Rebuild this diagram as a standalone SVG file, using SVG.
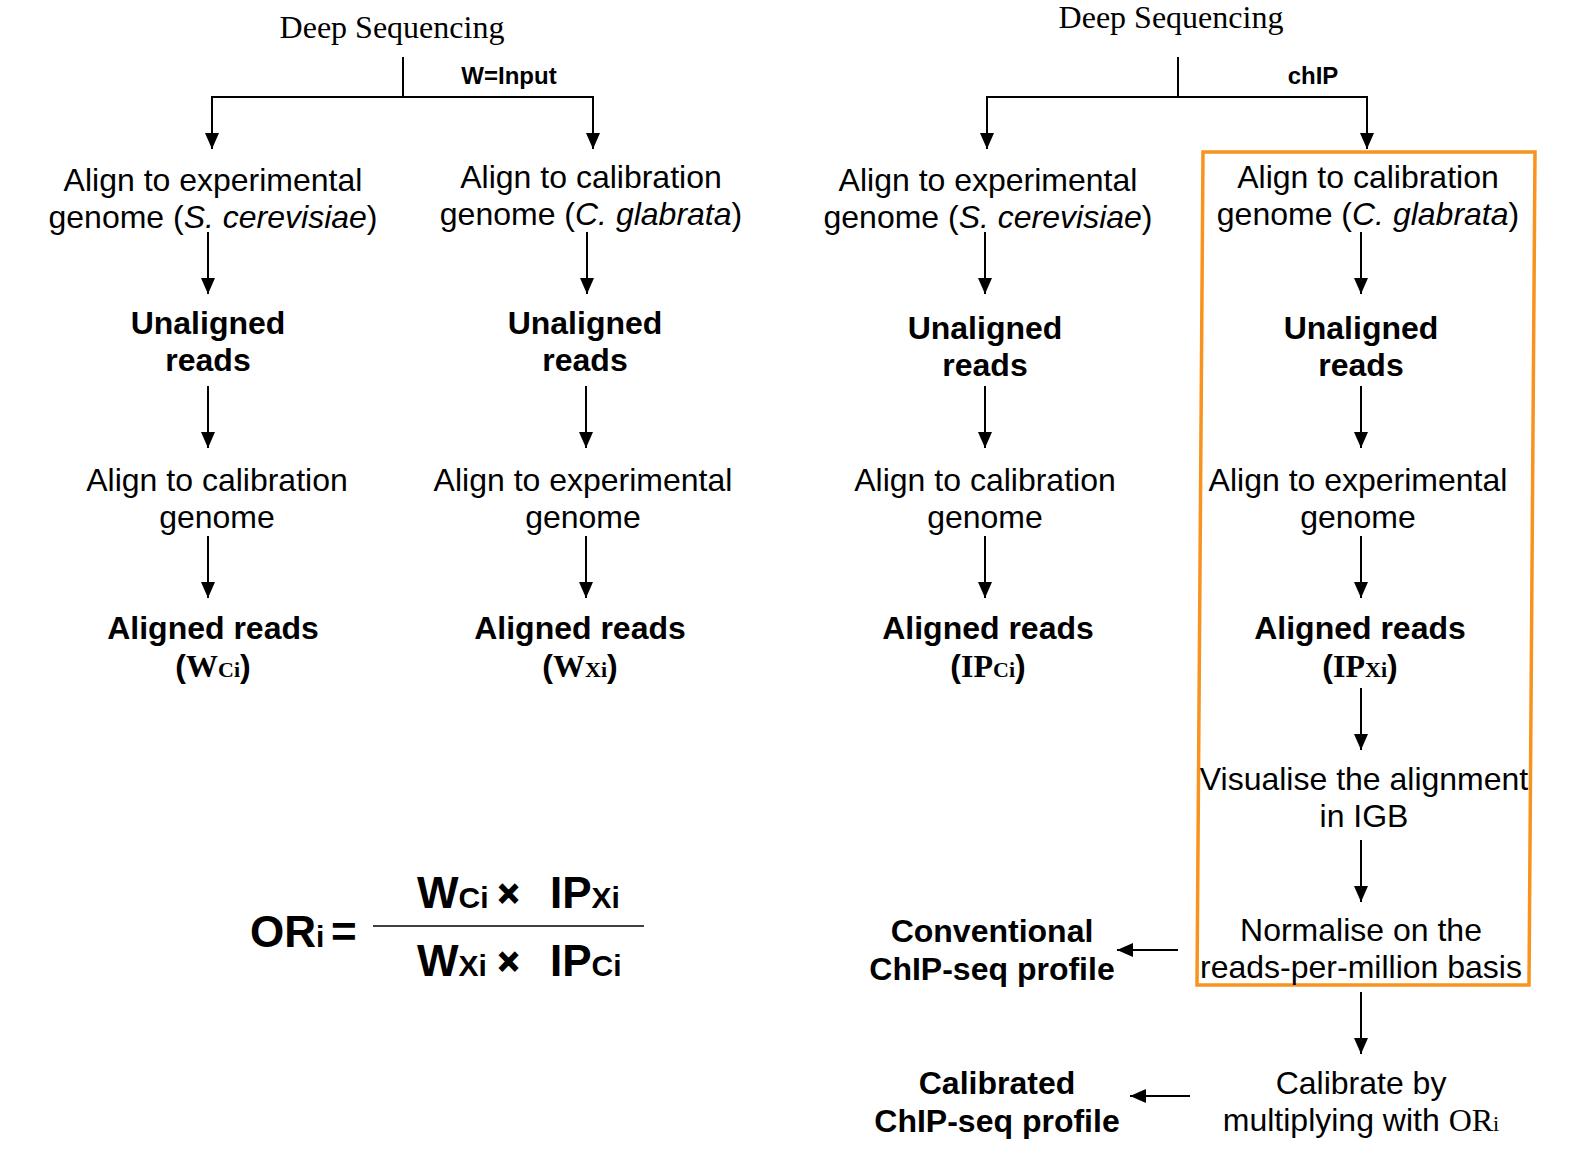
<svg xmlns="http://www.w3.org/2000/svg" width="1570" height="1158" viewBox="0 0 1570 1158">
<defs>
<marker id="ah" markerUnits="userSpaceOnUse" markerWidth="16" markerHeight="16" refX="16" refY="7" orient="auto" viewBox="0 0 16 14">
<path d="M0,0 L16,7 L0,14 z" fill="#000"/>
</marker>
<style>
.t{font-family:"Liberation Sans",Arial,sans-serif;font-size:32px;fill:#000;text-anchor:middle}
.b{font-family:"Liberation Sans",Arial,sans-serif;font-size:32px;font-weight:bold;fill:#000;text-anchor:middle}
.s{font-family:"Liberation Serif","Times New Roman",serif;font-size:32px;fill:#000;text-anchor:middle}
.lab{font-family:"Liberation Sans",Arial,sans-serif;font-size:24px;font-weight:bold;fill:#000;text-anchor:middle}
.ser{font-family:"Liberation Serif","Times New Roman",serif}
.sb{font-family:"Liberation Serif","Times New Roman",serif;font-weight:bold}
.sub{font-size:22px}
.f{font-family:"Liberation Sans",Arial,sans-serif;font-weight:bold;fill:#000;font-size:44px}
.fs{font-size:30px}
.x{font-family:"Liberation Sans",Arial,sans-serif;font-weight:bold;fill:#000;stroke:#000;stroke-width:1.5;font-size:36px}
.ln{stroke:#000;stroke-width:2;fill:none}
.ar{stroke:#000;stroke-width:2;fill:none;marker-end:url(#ah)}
</style>
</defs>
<rect width="1570" height="1158" fill="#fff"/>

<g id="connectors">
<line class="ln" x1="403" y1="57" x2="403" y2="97"/>
<polyline class="ln" points="212,148 212,97 593,97 593,148" stroke-width="2.5"/>
<line class="ar" x1="212" y1="120" x2="212" y2="149"/>
<line class="ar" x1="593" y1="120" x2="593" y2="149"/>
<line class="ln" x1="1178" y1="57" x2="1178" y2="97"/>
<polyline class="ln" points="987,148 987,97 1367,97 1367,148" stroke-width="2.5"/>
<line class="ar" x1="987" y1="120" x2="987" y2="149"/>
<line class="ar" x1="1367" y1="120" x2="1367" y2="149"/>
<line class="ar" x1="208" y1="232" x2="208" y2="294"/>
<line class="ar" x1="587" y1="232" x2="587" y2="294"/>
<line class="ar" x1="985" y1="232" x2="985" y2="294"/>
<line class="ar" x1="1361" y1="232" x2="1361" y2="294"/>
<line class="ar" x1="208" y1="386" x2="208" y2="448"/>
<line class="ar" x1="586" y1="386" x2="586" y2="448"/>
<line class="ar" x1="985" y1="386" x2="985" y2="448"/>
<line class="ar" x1="1361" y1="386" x2="1361" y2="448"/>
<line class="ar" x1="208" y1="536" x2="208" y2="598"/>
<line class="ar" x1="586" y1="536" x2="586" y2="598"/>
<line class="ar" x1="985" y1="536" x2="985" y2="598"/>
<line class="ar" x1="1361" y1="536" x2="1361" y2="598"/>
<line class="ar" x1="1361" y1="688" x2="1361" y2="750"/>
<line class="ar" x1="1361" y1="840" x2="1361" y2="902"/>
<line class="ar" x1="1361" y1="992" x2="1361" y2="1054"/>
<line class="ar" x1="1178" y1="950" x2="1117" y2="950"/>
<line class="ar" x1="1190" y1="1096" x2="1130" y2="1096"/>
</g>

<g id="highlight">
<polygon points="1203,152 1535,152 1529,985 1197,985" fill="none" stroke="#F7931E" stroke-width="3.5"/>
</g>

<g id="deep-seq-left"><text class="s" x="392" y="38">Deep Sequencing</text></g>
<g id="label-input"><text class="lab" x="509" y="84">W=Input</text></g>
<g id="deep-seq-right"><text class="s" x="1171" y="28">Deep Sequencing</text></g>
<g id="label-chip"><text class="lab" x="1313" y="84">chIP</text></g>

<g id="w-align-exp">
<text class="t" x="213" y="191">Align to experimental</text>
<text class="t" x="213" y="228">genome (<tspan font-style="italic">S. cerevisiae</tspan>)</text>
</g>
<g id="w-align-cal">
<text class="t" x="591" y="188">Align to calibration</text>
<text class="t" x="591" y="225">genome (<tspan font-style="italic">C. glabrata</tspan>)</text>
</g>
<g id="ip-align-exp">
<text class="t" x="988" y="191">Align to experimental</text>
<text class="t" x="988" y="228">genome (<tspan font-style="italic">S. cerevisiae</tspan>)</text>
</g>
<g id="ip-align-cal">
<text class="t" x="1368" y="188">Align to calibration</text>
<text class="t" x="1368" y="225">genome (<tspan font-style="italic">C. glabrata</tspan>)</text>
</g>

<g id="w-unaligned-1">
<text class="b" x="208" y="334">Unaligned</text>
<text class="b" x="208" y="371">reads</text>
</g>
<g id="w-unaligned-2">
<text class="b" x="585" y="334">Unaligned</text>
<text class="b" x="585" y="371">reads</text>
</g>
<g id="ip-unaligned-1">
<text class="b" x="985" y="339">Unaligned</text>
<text class="b" x="985" y="376">reads</text>
</g>
<g id="ip-unaligned-2">
<text class="b" x="1361" y="339">Unaligned</text>
<text class="b" x="1361" y="376">reads</text>
</g>

<g id="w-align-cal-2">
<text class="t" x="217" y="491">Align to calibration</text>
<text class="t" x="217" y="528">genome</text>
</g>
<g id="w-align-exp-2">
<text class="t" x="583" y="491">Align to experimental</text>
<text class="t" x="583" y="528">genome</text>
</g>
<g id="ip-align-cal-2">
<text class="t" x="985" y="491">Align to calibration</text>
<text class="t" x="985" y="528">genome</text>
</g>
<g id="ip-align-exp-2">
<text class="t" x="1358" y="491">Align to experimental</text>
<text class="t" x="1358" y="528">genome</text>
</g>

<g id="w-ci">
<text class="b" x="213" y="639">Aligned reads</text>
<text class="b" x="213" y="677">(<tspan class="sb">W</tspan><tspan class="ser sub">Ci</tspan>)</text>
</g>
<g id="w-xi">
<text class="b" x="580" y="639">Aligned reads</text>
<text class="b" x="580" y="677">(<tspan class="sb">W</tspan><tspan class="ser sub">Xi</tspan>)</text>
</g>
<g id="ip-ci">
<text class="b" x="988" y="639">Aligned reads</text>
<text class="b" x="988" y="677">(<tspan class="sb">IP</tspan><tspan class="ser sub">Ci</tspan>)</text>
</g>
<g id="ip-xi">
<text class="b" x="1360" y="639">Aligned reads</text>
<text class="b" x="1360" y="677">(<tspan class="sb">IP</tspan><tspan class="ser sub">Xi</tspan>)</text>
</g>

<g id="visualise">
<text class="t" x="1364" y="790">Visualise the alignment</text>
<text class="t" x="1364" y="827">in IGB</text>
</g>
<g id="normalise">
<text class="t" x="1361" y="941">Normalise on the</text>
<text class="t" x="1361" y="978">reads-per-million basis</text>
</g>
<g id="calibrate">
<text class="t" x="1361" y="1094">Calibrate by</text>
<text class="t" x="1361" y="1131">multiplying with <tspan class="ser">OR</tspan><tspan class="ser sub">i</tspan></text>
</g>
<g id="conventional">
<text class="b" x="992" y="942">Conventional</text>
<text class="b" x="992" y="980">ChIP-seq profile</text>
</g>
<g id="calibrated">
<text class="b" x="997" y="1094">Calibrated</text>
<text class="b" x="997" y="1132">ChIP-seq profile</text>
</g>

<g id="formula">
<text class="f" x="250" y="947">OR<tspan class="fs">i</tspan></text>
<text class="f" x="331" y="947">=</text>
<line x1="373" y1="926" x2="644" y2="926" stroke="#000" stroke-width="1.5"/>
<text class="f" x="417" y="908">W<tspan class="fs">Ci</tspan></text>
<text class="x" x="498" y="906">×</text>
<text class="f" x="550" y="908">IP<tspan class="fs">Xi</tspan></text>
<text class="f" x="417" y="976">W<tspan class="fs">Xi</tspan></text>
<text class="x" x="498" y="974">×</text>
<text class="f" x="550" y="976">IP<tspan class="fs">Ci</tspan></text>
</g>
</svg>
